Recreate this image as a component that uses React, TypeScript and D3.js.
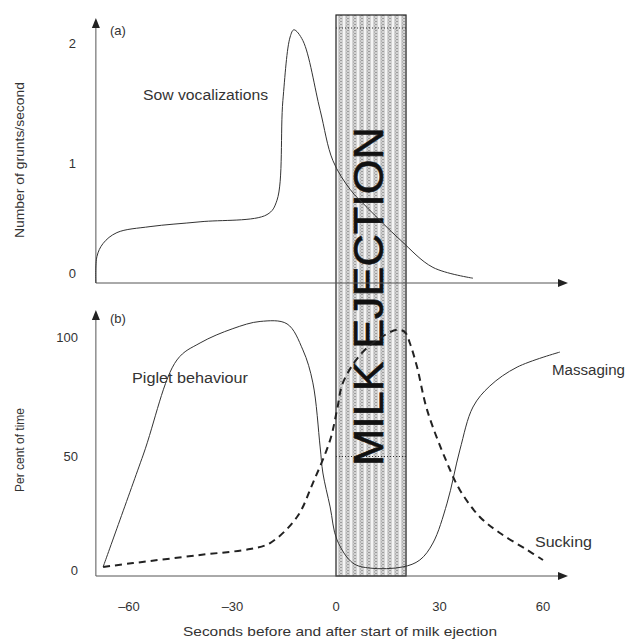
import React from 'react';
import * as d3 from 'd3';

// sow vocalizations, grunts/second (top panel)
const sowSec = [-69.6, -69.3, -67.5, -63.5, -53.9, -39.4, -20, -17.1, -15.4, -13.3, -12.2, -9.6, -4.6, -0.9, 4.1, 9, 18.6, 28.1, 39.7];
const sowVal = [0, 0.22, 0.33, 0.42, 0.47, 0.51, 0.57, 0.69, 1.52, 2.05, 2.11, 2.02, 1.44, 1.02, 0.78, 0.63, 0.36, 0.13, 0.04];

// piglet massaging, per cent of time (solid)
const massSec = [-67.5, -55.9, -46.1, -39.4, -29.9, -22, -14.2, -9.6, -6.7, -4.6, -3.8, -1.7, 0.3, 4.9, 9.9, 19.4, 24.3, 28.1, 32.2, 35.9, 39.7, 44.6, 52.5, 64.9];
const massVal = [3.8, 50.6, 90.4, 97.5, 103.5, 106.5, 105.5, 94.6, 80.8, 54, 43.1, 28.9, 15.1, 5.4, 3.3, 3.8, 6.7, 13.8, 30.5, 52.7, 70.7, 79.5, 87.4, 93.7];

// piglet sucking, per cent of time (dashed)
const suckSec = [-67.5, -58.8, -39.4, -24.9, -19.1, -11.3, -6.7, -1.7, 0.3, 2, 7, 12.8, 17.7, 20, 21.4, 23.5, 26.4, 32.2, 35.9, 41.7, 47.5, 55.4, 60];
const suckVal = [3.8, 5.4, 8.8, 11.3, 13.8, 24.7, 38.9, 56.9, 69.5, 80.8, 92.5, 99.6, 103, 102, 97.5, 87.4, 69.5, 47.3, 36, 24.7, 18, 10.9, 6.7];

const xTicks = [-60, -30, 0, 30, 60];
const topTicks = [0, 1, 2];
const botTicks = [0, 50, 100];
const ejection = [0, 20.3];

const font = 'Liberation Sans, Arial, sans-serif';
const ink = '#333';

export default function App() {
  const x = d3.scaleLinear().domain([0, 60]).range([336, 543]);
  const yTop = d3.scaleLinear().domain([0, 2]).range([283, 43]);
  const yBot = d3.scaleLinear().domain([0, 100]).range([576, 337]);

  const x0 = x(-69.6);
  const xEnd = 568;

  const curve = d3.curveCatmullRom.alpha(0.5);
  const topLine = d3.line<number>()
    .x((d, i) => x(sowSec[i]))
    .y(d => yTop(d))
    .curve(curve);
  const botLine = (secs: number[]) => d3.line<number>()
    .x((d, i) => x(secs[i]))
    .y(d => yBot(d))
    .curve(curve);

  const arrowUp = (cx: number, tip: number) => `M${cx},${tip} L${cx - 4},${tip + 10} L${cx + 4},${tip + 10} Z`;
  const arrowRight = (tip: number, cy: number) => `M${tip},${cy} L${tip - 10},${cy - 4} L${tip - 10},${cy + 4} Z`;

  const bandX = x(ejection[0]);
  const bandW = x(ejection[1]) - x(ejection[0]);

  const label = (tx: number, ty: number, s: string, len: number) => (
    <text x={tx} y={ty} fontFamily={font} fontSize={14} fill={ink} textLength={len} lengthAdjust="spacingAndGlyphs">{s}</text>
  );

  return (
    <svg width={627} height={642} style={{ position: 'absolute', left: 0, top: 0, background: '#fff' }}>
      <defs>
        <pattern id="dots" width="7" height="3" patternUnits="userSpaceOnUse">
          <rect width="7" height="3" fill="#d2d2d2" />
          <rect x="0" width="2" height="3" fill="#f4f4f4" />
          <rect x="4.5" y="0" width="1" height="1" fill="#666" />
          <rect x="3" y="1.5" width="1" height="1" fill="#999" />
        </pattern>
      </defs>

      {/* milk ejection band */}
      <rect x={bandX} y={15} width={bandW} height={576 - 15} fill="url(#dots)" stroke="#222" strokeWidth={1.2} />
      <line x1={bandX} x2={bandX + bandW} y1={28} y2={28} stroke="#333" strokeDasharray="1,2" />
      <line x1={bandX} x2={bandX + bandW} y1={yBot(50)} y2={yBot(50)} stroke="#333" strokeDasharray="1,2" />
      <text transform={`translate(383,296.5) rotate(-90)`} textAnchor="middle" fontFamily={font} fontSize={42}
        textLength={339} lengthAdjust="spacingAndGlyphs" fill="#111" stroke="#111" strokeWidth={0.6}>MILK EJECTION</text>

      {/* top panel axes */}
      <line x1={x0} x2={x0} y1={283} y2={26} stroke="#555" />
      <path d={arrowUp(x0, 18)} fill="#222" />
      <line x1={x0} x2={xEnd - 8} y1={283} y2={283} stroke="#555" />
      <path d={arrowRight(xEnd, 283)} fill="#222" />
      {topTicks.map(t => (
        <text key={t} x={76} y={yTop(t) - (t === 0 ? 10 : 0)} dy="0.35em" textAnchor="end" fontFamily={font} fontSize={13} fill={ink}>{t}</text>
      ))}
      <text transform="translate(24,160) rotate(-90)" textAnchor="middle" fontFamily={font} fontSize={13} fill={ink}
        textLength={156} lengthAdjust="spacingAndGlyphs">Number of grunts/second</text>
      <text x={110} y={35} fontFamily={font} fontSize={13} fill={ink}>(a)</text>
      {label(143, 100, 'Sow vocalizations', 125)}
      <path d={topLine(sowVal) ?? ''} fill="none" stroke={ink} strokeWidth={1} />

      {/* bottom panel axes */}
      <line x1={x0} x2={x0} y1={576} y2={318} stroke="#555" />
      <path d={arrowUp(x0, 310)} fill="#222" />
      <line x1={x0} x2={xEnd - 8} y1={576} y2={576} stroke="#555" />
      <path d={arrowRight(xEnd, 576)} fill="#222" />
      {botTicks.map(t => (
        <text key={t} x={78} y={yBot(t) - (t === 0 ? 6 : 0)} dy="0.35em" textAnchor="end" fontFamily={font} fontSize={13} fill={ink}>{t}</text>
      ))}
      {xTicks.map(t => (
        <text key={t} x={x(t)} y={606} dy="0.35em" textAnchor="middle" fontFamily={font} fontSize={13} fill={ink}>{t < 0 ? `\u2013${-t}` : t}</text>
      ))}
      <text x={340} y={636} textAnchor="middle" fontFamily={font} fontSize={13} fill={ink}
        textLength={314} lengthAdjust="spacingAndGlyphs">Seconds before and after start of milk ejection</text>
      <text transform="translate(24,450) rotate(-90)" textAnchor="middle" fontFamily={font} fontSize={12} fill={ink}>Per cent of time</text>
      <text x={110} y={323} fontFamily={font} fontSize={13} fill={ink}>(b)</text>
      {label(132, 383, 'Piglet behaviour', 116)}
      {label(552, 375, 'Massaging', 73)}
      {label(535, 547, 'Sucking', 57)}

      <path d={botLine(massSec)(massVal) ?? ''} fill="none" stroke={ink} strokeWidth={1} />
      <path d={botLine(suckSec)(suckVal) ?? ''} fill="none" stroke="#222" strokeWidth={2} strokeDasharray="7,5" />
    </svg>
  );
}
